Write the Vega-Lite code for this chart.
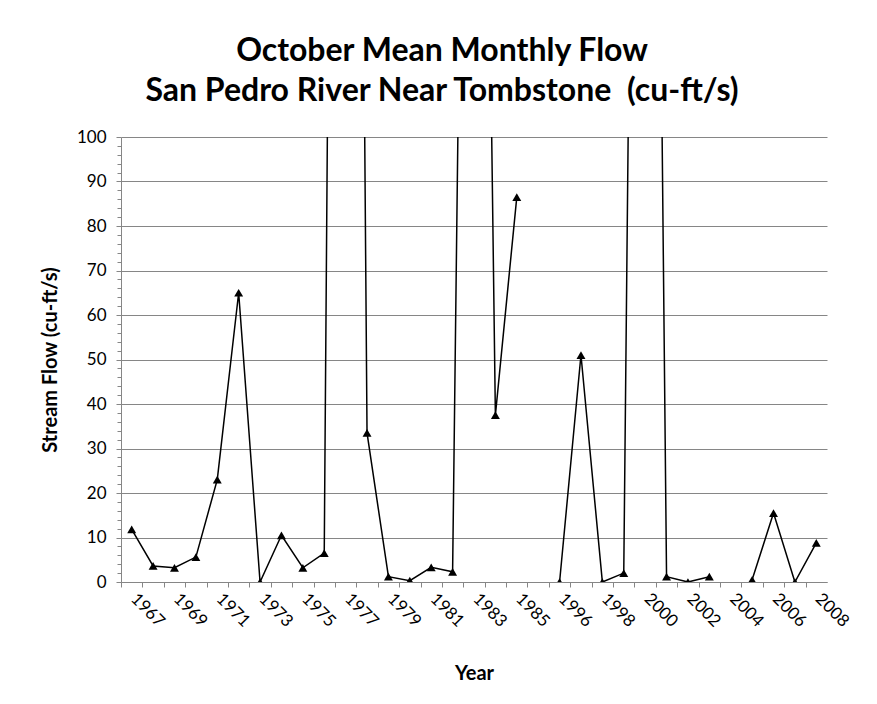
{
  "$schema": "https://vega.github.io/schema/vega-lite/v6.json",
  "width": 706,
  "height": 445,
  "autosize": {"type": "none"},
  "padding": {"left": 121, "top": 137, "right": 50, "bottom": 122},
  "background": "white",
  "config": {"view": {"stroke": null}},
  "title": {
    "text": ["October Mean Monthly Flow", "San Pedro River Near Tombstone \u00a0(cu-ft/s)"],
    "font": "Lato",
    "fontSize": 32,
    "fontWeight": "bold",
    "lineHeight": 40,
    "anchor": "middle",
    "frame": "group",
    "dx": -32,
    "offset": 20,
    "color": "black"
  },
  "data": {
    "values": [
      {"year": "1967", "flow": 11.8},
      {"year": "1968", "flow": 3.6},
      {"year": "1969", "flow": 3.2},
      {"year": "1970", "flow": 5.6},
      {"year": "1971", "flow": 23},
      {"year": "1972", "flow": 65},
      {"year": "1973", "flow": 0},
      {"year": "1974", "flow": 10.5},
      {"year": "1975", "flow": 3.2},
      {"year": "1976", "flow": 6.5},
      {"year": "1977", "flow": 650},
      {"year": "1978", "flow": 33.5},
      {"year": "1979", "flow": 1.2},
      {"year": "1980", "flow": 0.3},
      {"year": "1981", "flow": 3.3},
      {"year": "1982", "flow": 2.3},
      {"year": "1983", "flow": 400},
      {"year": "1984", "flow": 37.5},
      {"year": "1985", "flow": 86.5},
      {"year": "1986", "flow": null},
      {"year": "1996", "flow": 0},
      {"year": "1997", "flow": 51},
      {"year": "1998", "flow": 0},
      {"year": "1999", "flow": 2},
      {"year": "2000", "flow": 480},
      {"year": "2001", "flow": 1.2},
      {"year": "2002", "flow": 0},
      {"year": "2003", "flow": 1.2},
      {"year": "2004", "flow": null},
      {"year": "2005", "flow": 0.5},
      {"year": "2006", "flow": 15.5},
      {"year": "2007", "flow": 0},
      {"year": "2008", "flow": 8.8}
    ]
  },
  "resolve": {"axis": {"y": "independent"}},
  "layer": [
    {
      "mark": {"type": "line", "color": "black", "strokeWidth": 1.5, "clip": true},
      "encoding": {
        "x": {
          "field": "year",
          "type": "ordinal",
          "scale": {"type": "point", "padding": 0.5},
          "axis": {
            "title": "Year",
            "grid": false,
            "labelAngle": 45,
            "labelAlign": "left",
            "labelBaseline": "middle",
            "labelOverlap": false,
            "labelExpr": "(toNumber(datum.value) < 1990 ? toNumber(datum.value) % 2 == 1 : toNumber(datum.value) % 2 == 0) ? datum.label : ''",
            "tickOffset": -10.7,
            "labelOffset": 12,
            "tickSize": 5,
            "tickColor": "#868686",
            "domainColor": "#868686",
            "labelFont": "Lato",
            "labelFontSize": 17,
            "labelColor": "black",
            "labelPadding": 9,
            "titleFont": "Lato",
            "titleFontSize": 20,
            "titleFontWeight": "bold",
            "titleColor": "black",
            "titlePadding": 34
          }
        },
        "y": {
          "field": "flow",
          "type": "quantitative",
          "scale": {"domain": [0, 100], "nice": false, "zero": true},
          "axis": {
            "orient": "left",
            "values": [0, 10, 20, 30, 40, 50, 60, 70, 80, 90, 100],
            "grid": true,
            "gridColor": "#868686",
            "domainColor": "#868686",
            "tickColor": "#868686",
            "tickSize": 5,
            "labelFont": "Lato",
            "labelFontSize": 17,
            "labelColor": "black",
            "labelPadding": 10,
            "title": "Stream Flow (cu-ft/s)",
            "titleFont": "Lato",
            "titleFontSize": 20,
            "titleFontWeight": "bold",
            "titleColor": "black",
            "titlePadding": 16
          }
        }
      }
    },
    {
      "mark": {"type": "point", "shape": "triangle-up", "filled": true, "color": "black", "opacity": 1, "size": 80, "clip": true},
      "encoding": {
        "x": {"field": "year", "type": "ordinal"},
        "y": {"field": "flow", "type": "quantitative", "axis": null}
      }
    },
    {
      "mark": {"type": "point", "opacity": 0, "clip": true},
      "encoding": {
        "x": {"field": "year", "type": "ordinal"},
        "y": {
          "field": "flow",
          "type": "quantitative",
          "axis": {
            "orient": "left",
            "values": [2, 4, 6, 8, 12, 14, 16, 18, 22, 24, 26, 28, 32, 34, 36, 38, 42, 44, 46, 48, 52, 54, 56, 58, 62, 64, 66, 68, 72, 74, 76, 78, 82, 84, 86, 88, 92, 94, 96, 98],
            "labels": false,
            "grid": false,
            "domain": false,
            "title": null,
            "tickColor": "#868686",
            "tickSize": 4
          }
        }
      }
    }
  ]
}
